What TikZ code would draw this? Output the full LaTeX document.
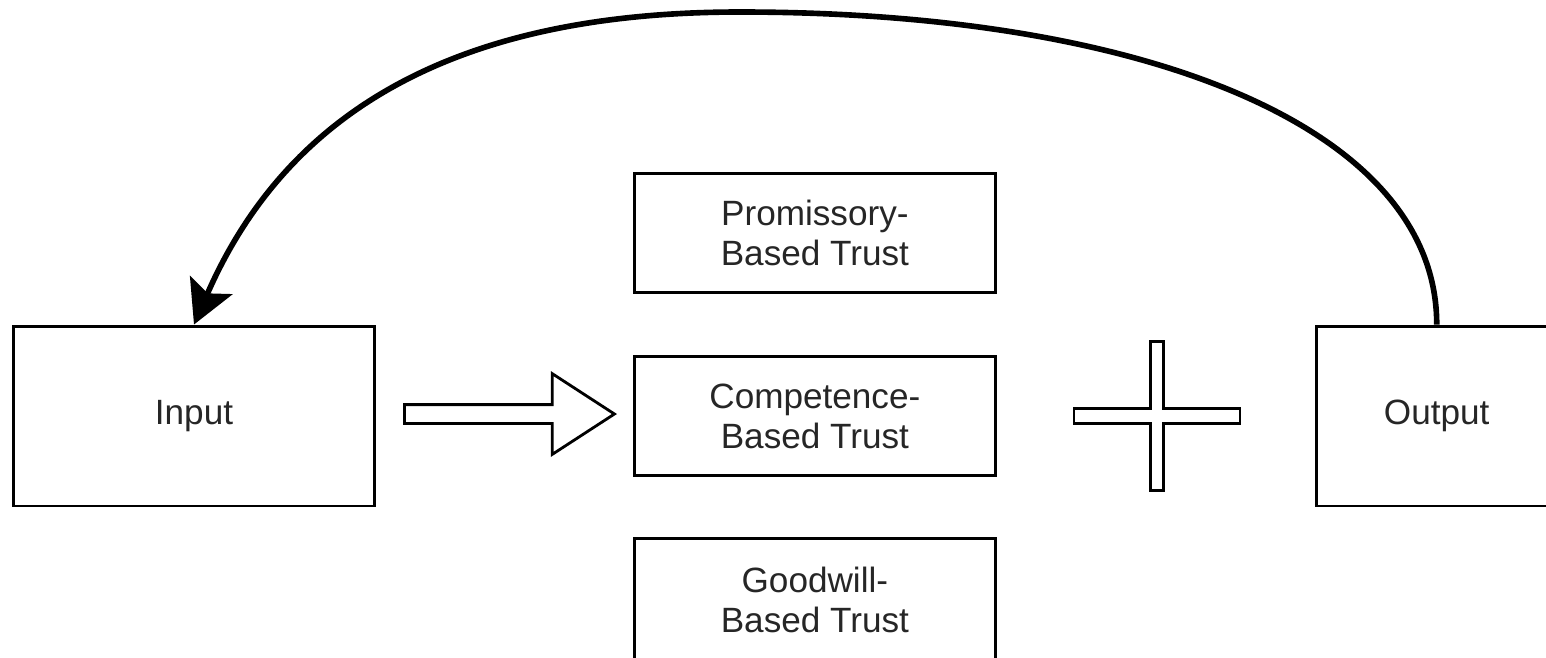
\documentclass[tikz,border=0pt]{standalone}
\usepackage{fontspec}
\setmainfont{Liberation Sans}
\usetikzlibrary{positioning,shapes.arrows,arrows.meta}

\begin{document}
\begin{tikzpicture}[x=0.02cm, y=-0.02cm,
  box/.style={draw, line width=1.7pt, align=center, text=black!85,
    font=\fontsize{20}{22.8}\selectfont},
  trust/.style={box, minimum width=7.22cm, minimum height=2.38cm},
  io/.style={box, minimum width=7.22cm, minimum height=3.6cm},
  imply/.style={single arrow, draw, line width=1.6pt, inner sep=0.16cm,
    minimum height=4.2cm, single arrow head extend=0.62cm,
    single arrow tip angle=66},
  feedback/.style={line width=3.2pt,
    -{Stealth[length=0.86cm, width=0.92cm, inset=0.18cm]}}]
  \useasboundingbox (0,0) rectangle (1546,657);
  \node[io] (in) at (194,416) {Input};
  \node[trust, right=5.14cm of in] (comp) {Competence-\\Based Trust};
  \node[trust, above=1.22cm of comp] (prom) {Promissory-\\Based Trust};
  \node[trust, minimum height=2.46cm, below=1.2cm of comp] (good)
    {Goodwill-\\Based Trust};
  \node[io, minimum width=4.82cm, right=6.36cm of comp] (out) {Output};
  \node[imply, anchor=tip] (imp) at (617,414) {};
  \coordinate (plus) at (1157,416);
  \coordinate (apex) at (740,12);
  \begin{scope}[shift={(plus)}]
    \draw[line width=1.6pt] (-83,-7.5) -- (-6.5,-7.5) -- (-6.5,-74.5)
      -- (6.5,-74.5) -- (6.5,-7.5) -- (83,-7.5) -- (83,7.5) -- (6.5,7.5)
      -- (6.5,74.5) -- (-6.5,74.5) -- (-6.5,7.5) -- (-83,7.5) -- cycle;
  \end{scope}
  \draw[feedback] (out.north) .. controls (1437,130) and (1150,12) .. (apex)
    .. controls (480,12) and (294,95) .. (in.north);
\end{tikzpicture}
\end{document}
